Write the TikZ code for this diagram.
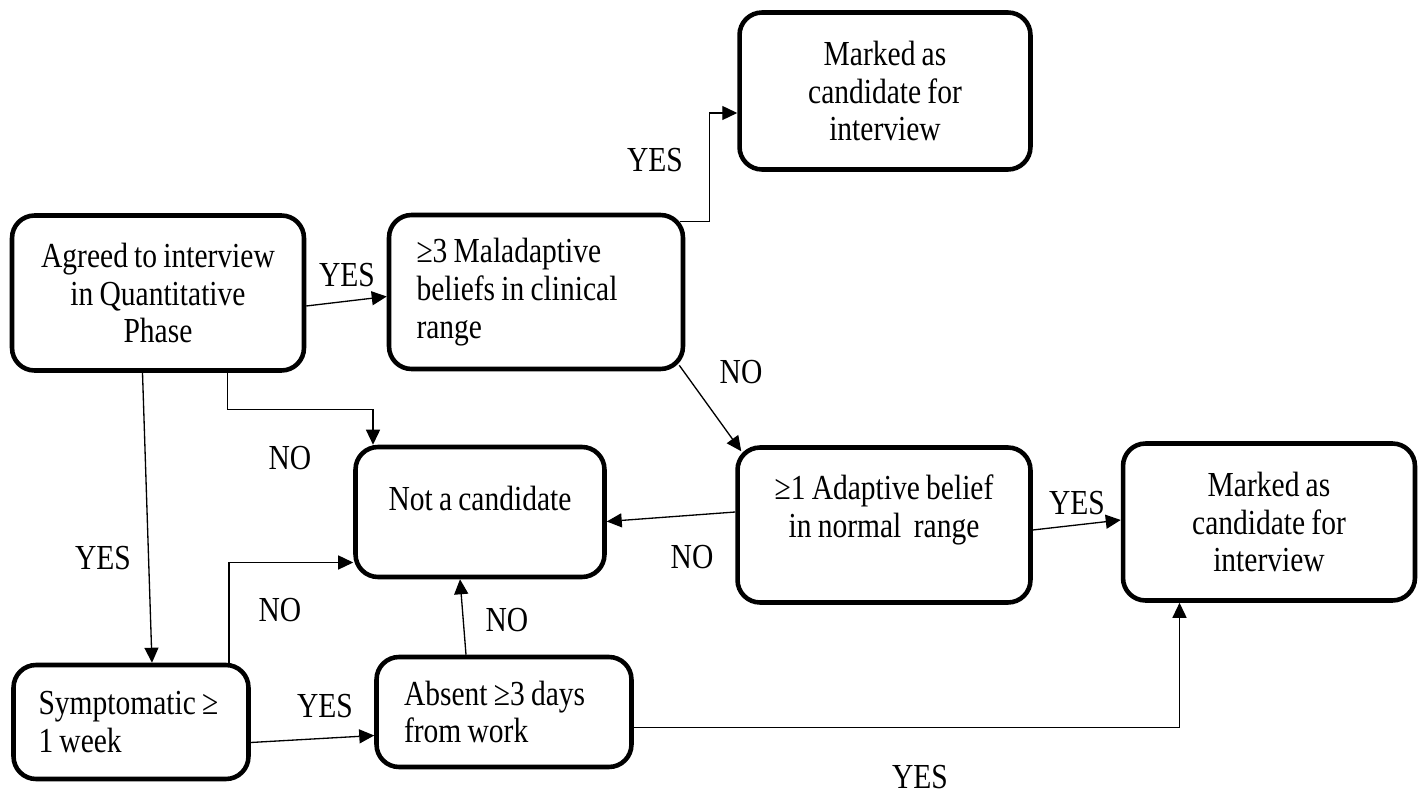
\documentclass[tikz,border=0pt]{standalone}
\usepackage{fontspec}
\setmainfont{Liberation Serif}[FakeStretch = 0.84, WordSpace = 0.84]
\usetikzlibrary{arrows.meta}

\tikzset{
	box/.style = {draw, line width = 2.6pt, rounded corners = 0.45cm, align = center, inner sep = 0pt},
	lbox/.style = {box, align = flush left, text width = #1, inner xsep = 0.55cm},
	arr/.style = {-{Triangle[length = 0.3cm, width = 0.28cm]}, line width = 0.75pt},
	lbl/.style = {inner sep = 0pt}
}

\begin{document}
\begin{tikzpicture}[x = 0.02cm, y = -0.02cm, font = \fontsize{20}{21.6}\selectfont]
	\useasboundingbox (0, 0) rectangle (1421, 794);
	% boxes
	\node[box, minimum width = 5.84cm, minimum height = 3.1cm] (agreed) at (158, 293) {Agreed to interview\\in Quantitative\\Phase};
	\node[lbox = 4.78cm, minimum height = 3.08cm] (malad) at (536, 292) {≥3 Maladaptive\\beliefs in clinical\\range};
	\node[box, minimum width = 5.82cm, minimum height = 3.14cm] (markedtop) at (885, 91) {Marked as\\candidate for\\interview};
	\node[box, minimum width = 4.98cm, minimum height = 2.6cm] (notcand) at (480, 512) {\raisebox{0.28cm}[\height][\depth]{Not a candidate}};
	\node[box, minimum width = 5.86cm, minimum height = 3.1cm] (adapt) at (884, 525) {\raisebox{0.28cm}[\height][\depth]{\begin{tabular}{@{}c@{}}≥1 Adaptive belief\\in normal\ \ range\end{tabular}}};
	\node[box, minimum width = 5.84cm, minimum height = 3.14cm] (markedright) at (1269, 522) {Marked as\\candidate for\\interview};
	\node[lbox = 3.7cm, inner xsep = 0.5cm, minimum height = 2.28cm] (sympt) at (131, 722) {Symptomatic ≥\\1 week};
	\node[lbox = 4cm, minimum height = 2.2cm] (absent) at (504, 712) {Absent ≥3 days\\from work};
	% connectors
	\draw[arr] ([yshift = -0.26cm]agreed.east) -- ([yshift = -0.09cm]malad.west);
	\draw[arr] ([shift = {(-0.1cm, -0.18cm)}]malad.north east) -- ++(29, 0) |- ([yshift = -0.44cm]markedtop.west);
	\draw[arr] ([shift = {(-0.12cm, 0.12cm)}]malad.south east) -- ([shift = {(0.12cm, -0.12cm)}]adapt.north west);
	\draw[arr] ([xshift = 1.39cm]agreed.south) -- ++(0, 37) -| ([xshift = -2.14cm]notcand.north);
	\draw[arr] ([xshift = -0.31cm]agreed.south) -- ([xshift = 0.42cm]sympt.north);
	\draw[arr] ([xshift = 1.96cm]sympt.north) |- ([yshift = -1.01cm]notcand.west);
	\draw[arr] ([yshift = -0.41cm]sympt.east) -- ([yshift = -0.47cm]absent.west);
	\draw[arr] ([xshift = -0.76cm]absent.north) -- ([xshift = -0.4cm]notcand.south);
	\draw[arr] ([yshift = -0.31cm]absent.east) -| ([xshift = -1.79cm]markedright.south);
	\draw[arr] ([yshift = 0.26cm]adapt.west) -- ([yshift = -0.19cm]notcand.east);
	\draw[arr] ([yshift = -0.1cm]adapt.east) -- ([yshift = 0.04cm]markedright.west);
	% labels
	\node[lbl] (yesAB) at (347, 275) {YES};
	\node[lbl] (yesBC) at (655, 160) {YES};
	\node[lbl] (noBE) at (741, 372) {NO};
	\node[lbl] (noAD) at (290, 458) {NO};
	\node[lbl] (yesAG) at (103, 558) {YES};
	\node[lbl] (noGD) at (280, 610) {NO};
	\node[lbl] (noHD) at (507, 620) {NO};
	\node[lbl] (yesGH) at (325, 706) {YES};
	\node[lbl] (noED) at (692, 557) {NO};
	\node[lbl] (yesEF) at (1077, 503) {YES};
	\node[lbl] (yesHF) at (920, 777) {YES};
\end{tikzpicture}
\end{document}
